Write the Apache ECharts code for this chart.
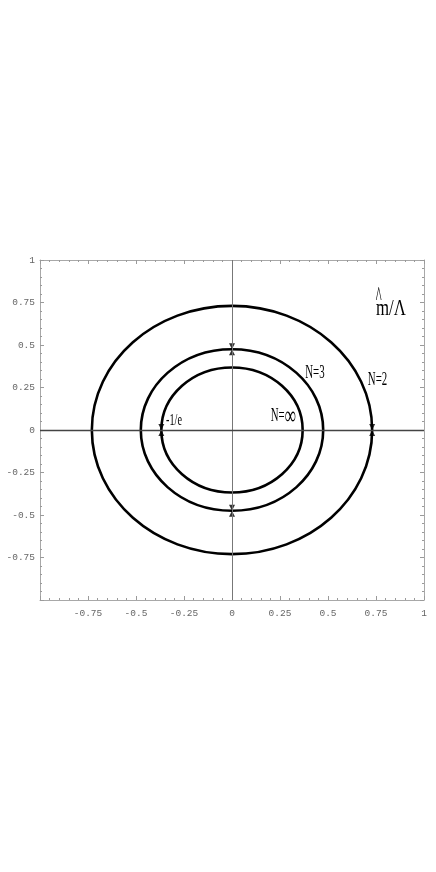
<!DOCTYPE html>
<html>
<head>
<meta charset="utf-8">
<script src="https://cdn.jsdelivr.net/npm/echarts@6/dist/echarts.min.js"></script>
<style>
html,body{margin:0;padding:0;background:#fff;}
#chart{width:436px;height:872px;}
</style>
</head>
<body>
<div id="chart"></div>
<script>
// ---- data ----
var curveNames = ['N=2', 'N=3', 'N=\u221E'];
var curveRadii = [0.73, 0.475, 0.368];          // radius of each closed curve (same on both axes)
var markerX = [-0.368, 0, 0, 0.73];
var markerY = [0, 0.475, -0.475, 0];
var annoText = ['m/\u039B', '^', 'N=2', 'N=3', 'N={b|\u221E}', '-1/e'];
var annoX = [0.75, 0.764, 0.758, 0.432, 0.267, -0.302];
var annoY = [0.715, 0.78, 0.292, 0.333, 0.078, 0.053];
var xTicks = [-1, -0.75, -0.5, -0.25, 0, 0.25, 0.5, 0.75, 1];
var yTicks = [-1, -0.75, -0.5, -0.25, 0, 0.25, 0.5, 0.75, 1];

var annoStyle = [
  {size: 24, sx: 0.7},
  {size: 28, sx: 0.45},
  {size: 19, sx: 0.57},
  {size: 19, sx: 0.57},
  {size: 18, sx: 0.6},
  {size: 17, sx: 0.6}
];

var chart = echarts.init(document.getElementById('chart'), null, {renderer: 'canvas'});

function fmt(v) {
  if (v === -1) return '';
  return String(v);
}

var tickCol = '#9a9a9a';
var labelStyle = {color: '#666', fontFamily: 'Liberation Mono', fontSize: 9.5};

function makeAxis(pos, isX, labels) {
  return {
    type: 'value',
    position: pos,
    min: -1, max: 1, interval: 0.25,
    axisLine: {show: true, onZero: false, lineStyle: {color: '#a8a8a8', width: 1}},
    axisTick: {show: true, inside: true, length: 4, lineStyle: {color: tickCol}},
    minorTick: {show: true, splitNumber: 5, length: 2, lineStyle: {color: tickCol}},
    splitLine: {show: false},
    axisLabel: labels ? Object.assign({show: true, margin: isX ? 8 : 5, formatter: fmt}, labelStyle) : {show: false}
  };
}

var option = {
  backgroundColor: '#fff',
  animation: false,
  grid: {left: 40, top: 260, width: 384, height: 340, containLabel: false},
  xAxis: [makeAxis('bottom', true, true), makeAxis('top', true, false)],
  yAxis: [makeAxis('left', false, true), makeAxis('right', false, false)],
  series: [
    {
      type: 'scatter',
      xAxisIndex: 0, yAxisIndex: 0,
      data: [],
      markLine: {
        silent: true,
        symbol: 'none',
        label: {show: false},
        data: [
          {xAxis: 0, lineStyle: {color: '#777', width: 1, type: 'solid'}},
          {yAxis: 0, lineStyle: {color: '#444', width: 1.3, type: 'solid'}}
        ]
      },
      z: 1
    },
    {
      type: 'custom',
      name: 'curves',
      xAxisIndex: 0, yAxisIndex: 0,
      data: curveRadii.map(function (r, i) { return [r, r, i]; }),
      encode: {x: 0, y: 1},
      clip: false,
      renderItem: function (params, api) {
        var r = api.value(0);
        var c = api.coord([0, 0]);
        var sz = api.size([r, r]);
        return {
          type: 'ellipse',
          shape: {cx: c[0], cy: c[1], rx: sz[0], ry: sz[1]},
          style: {fill: null, stroke: '#000', lineWidth: 2.6}
        };
      },
      z: 3
    },
    {
      type: 'scatter',
      xAxisIndex: 0, yAxisIndex: 0,
      data: markerX.map(function (x, i) { return [x, markerY[i]]; }),
      symbol: 'path://M0,0 L6,0 L0,12 L6,12 Z',
      symbolSize: [6, 12],
      itemStyle: {color: '#000'},
      z: 4
    },
    {
      type: 'custom',
      name: 'annotations',
      xAxisIndex: 0, yAxisIndex: 0,
      data: annoX.map(function (x, i) { return [x, annoY[i], i]; }),
      encode: {x: 0, y: 1},
      clip: false,
      renderItem: function (params, api) {
        var i = api.value(2);
        var p = api.coord([api.value(0), api.value(1)]);
        var st = annoStyle[i];
        var align = (i === 0) ? 'left' : 'center';
        return {
          type: 'text',
          x: p[0], y: p[1],
          scaleX: st.sx,
          style: {
            text: annoText[i],
            font: st.size + 'px "Liberation Serif", serif',
            fill: '#000',
            align: align,
            verticalAlign: 'middle',
            rich: {b: {fontSize: 26, fontFamily: 'Liberation Serif', fill: '#000'}}
          }
        };
      },
      z: 5
    }
  ]
};
chart.setOption(option);
</script>
</body>
</html>
